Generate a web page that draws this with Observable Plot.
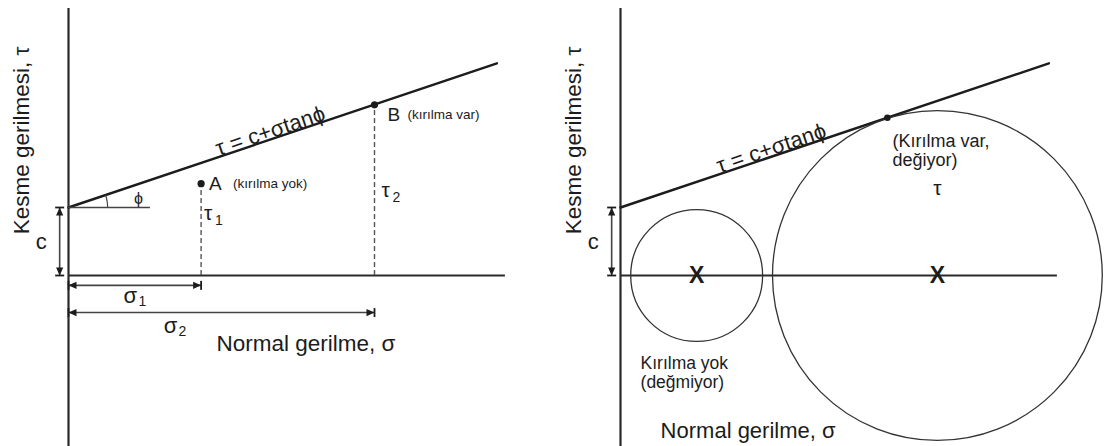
<!DOCTYPE html>
<html>
<head>
<meta charset="utf-8">
<script src="https://cdn.jsdelivr.net/npm/d3@7"></script>
<script src="https://cdn.jsdelivr.net/npm/@observablehq/plot@0.6"></script>
<style>
  body { margin: 0; background: #fff; }
  #figure { display: flex; width: 1105px; height: 446px; overflow: hidden; }
  #figure svg { display: block; font-family: "Liberation Sans", Arial, sans-serif; }
</style>
</head>
<body>
<div id="figure"></div>
<script>
// Mohr–Coulomb failure envelope τ = c + σ·tanϕ (stress units, σ and τ on equal scales)
const envelopeSigma = [0, 12.6];
const envelopeTau = [2, 6.24];
const cohesion = 2;

// Left panel: two stress states
const stateNames = ["A", "B"];
const stateNotes = ["(kırılma yok)", "(kırılma var)"];
const stateSigma = [3.9, 9.0];
const stateTau = [2.7, 5.02];

// Right panel: Mohr circles (centre on the σ axis, radius)
const circleCenter = [2.24, 9.32];
const circleRadius = [1.94, 4.85];
const contactSigma = [7.85];
const contactTau = [4.64];

// Axis extents
const sigmaAxisEnd = 12.85;
const tauAxisTop = 7.85;
const tauAxisBottom = -5.2;

// Shared scale set-up: 34 px per stress unit on both axes
const xDomain = [0, 14.235];
const yDomain = [-5.029, 8.088];

const ink = "#1c1c1c";
const grey = "#444";

const envelope = envelopeSigma.map((s, i) => ({sigma: s, tau: envelopeTau[i]}));
const slope = (envelopeTau[1] - envelopeTau[0]) / (envelopeSigma[1] - envelopeSigma[0]);
const phi = Math.atan(slope);
const onEnvelope = s => envelopeTau[0] + (s - envelopeSigma[0]) * slope;

const states = stateNames.map((n, i) => ({name: n, note: stateNotes[i], sigma: stateSigma[i], tau: stateTau[i]}));
const circles = circleCenter.map((c, i) => ({center: c, radius: circleRadius[i]}));
const contact = contactSigma.map((s, i) => ({sigma: s, tau: contactTau[i]}));

// Filled arrow head with its tip at the origin, pointing up (rotated per end)
const headSymbol = {draw(ctx) { ctx.moveTo(0, 0); ctx.lineTo(-3.6, 8); ctx.lineTo(3.6, 8); ctx.closePath(); }};
// Short end bar of a dimension line
const barSymbol = {draw(ctx) { ctx.moveTo(0, -4.5); ctx.lineTo(0, 4.5); }};

function label(x, y, s, o = {}) {
  return Plot.text([{x, y, s}], {x: "x", y: "y", text: "s", fill: ink, fontSize: 17, ...o});
}

// Dimension line between two points with arrow heads and end bars
function dimension(x1, y1, x2, y2) {
  const horizontal = y1 === y2;
  const ends = horizontal
    ? [{x: x1, y: y1, rot: -90}, {x: x2, y: y2, rot: 90}]
    : [{x: x1, y: y1, rot: 180}, {x: x2, y: y2, rot: 0}];
  return [
    Plot.link([{x1, y1, x2, y2}], {x1: "x1", y1: "y1", x2: "x2", y2: "y2", stroke: grey, strokeWidth: 1.6}),
    Plot.dot(ends, {x: "x", y: "y", symbol: headSymbol, rotate: "rot", fill: ink, stroke: "none"}),
    Plot.dot(ends, {x: "x", y: "y", symbol: barSymbol, rotate: horizontal ? 0 : 90, fill: "none", stroke: ink, strokeWidth: 1.8})
  ];
}

function frame(eqSigma) {
  return [
    Plot.ruleX([0], {y1: tauAxisBottom, y2: tauAxisTop, stroke: "#2a2a2a", strokeWidth: 2.2}),
    Plot.ruleY([0], {x1: 0, x2: sigmaAxisEnd, stroke: "#2a2a2a", strokeWidth: 2.2}),
    Plot.line(envelope, {x: "sigma", y: "tau", stroke: ink, strokeWidth: 2.4}),
    label(eqSigma, onEnvelope(eqSigma), "τ = c+σtanϕ",
      {rotate: -phi * 180 / Math.PI, lineAnchor: "bottom", dy: -1, fontSize: 22}),
    ...dimension(-0.26, 0, -0.26, cohesion),
    label(-0.8, cohesion / 2, "c", {fontSize: 22}),
    label(-1.36, 3.97, "Kesme gerilmesi, τ", {rotate: -90, fontSize: 22.5})
  ];
}

function panel(marks) {
  return Plot.plot({
    width: 552,
    height: 446,
    marginLeft: 68,
    marginRight: 0,
    marginTop: 0,
    marginBottom: 0,
    style: {background: "#fff", overflow: "visible"},
    x: {domain: xDomain, axis: null},
    y: {domain: yDomain, axis: null},
    r: {type: "linear", domain: [0, 1], range: [0, 34]},
    marks
  });
}

// ϕ angle marker: arc around the envelope's intercept
const arcR = 1.15;
const arc = d3.range(0, 1.0001, 0.1).map(t => ({
  sigma: arcR * Math.cos(t * phi),
  tau: cohesion + arcR * Math.sin(t * phi)
}));

const left = panel([
  ...frame(6.0),
  Plot.ruleY([cohesion], {x1: 0, x2: 2.41, stroke: grey, strokeWidth: 1.3}),
  Plot.line(arc, {x: "sigma", y: "tau", stroke: grey, strokeWidth: 1.2}),
  label(2.06, 2.26, "ϕ", {fontSize: 16}),
  Plot.ruleX(states, {x: "sigma", y1: 0, y2: "tau", stroke: "#555", strokeWidth: 1.4, strokeDasharray: "5,3"}),
  Plot.dot(states, {x: "sigma", y: "tau", r: 3.6, fill: ink, stroke: "none"}),
  label(stateSigma[0], stateTau[0], stateNames[0], {dx: 8, textAnchor: "start", fontSize: 19}),
  label(stateSigma[0], stateTau[0], stateNotes[0], {dx: 32, textAnchor: "start", fontSize: 13.5}),
  label(stateSigma[1], stateTau[1], stateNames[1], {dx: 13, dy: 10, textAnchor: "start", fontSize: 19}),
  label(stateSigma[1], stateTau[1], stateNotes[1], {dx: 33, dy: 10, textAnchor: "start", fontSize: 13.5}),
  label(stateSigma[0], 1.82, "τ", {dx: 3, textAnchor: "start", fontSize: 21}),
  label(stateSigma[0], 1.82, "1", {dx: 14, dy: 7, textAnchor: "start", fontSize: 14}),
  label(stateSigma[1], 2.5, "τ", {dx: 7, textAnchor: "start", fontSize: 21}),
  label(stateSigma[1], 2.5, "2", {dx: 18, dy: 7, textAnchor: "start", fontSize: 14}),
  ...dimension(0, -0.29, stateSigma[0], -0.29),
  ...dimension(0, -1.09, stateSigma[1], -1.09),
  label(1.82, -0.59, "σ", {fontSize: 22}),
  label(1.82, -0.59, "1", {dx: 8, dy: 6, textAnchor: "start", fontSize: 14}),
  label(3.0, -1.47, "σ", {fontSize: 22}),
  label(3.0, -1.47, "2", {dx: 8, dy: 6, textAnchor: "start", fontSize: 14}),
  label(4.35, -2.0, "Normal gerilme, σ", {textAnchor: "start", fontSize: 22.5})
]);

const right = panel([
  ...frame(4.5),
  Plot.dot(circles, {x: "center", y: () => 0, r: "radius", fill: "none", stroke: "#333", strokeWidth: 1.3}),
  Plot.text(circles, {x: "center", y: () => 0, text: () => "X", fill: ink, fontWeight: "bold", fontSize: 23, lineAnchor: "middle"}),
  Plot.dot(contact, {x: "sigma", y: "tau", r: 3.3, fill: ink, stroke: "none"}),
  label(8.0, 3.94, "(Kırılma var,", {textAnchor: "start", fontSize: 18}),
  label(8.0, 3.38, "değiyor)", {textAnchor: "start", fontSize: 18}),
  label(circleCenter[1], 2.56, "τ", {fontSize: 21}),
  label(0.59, -2.59, "Kırılma yok", {textAnchor: "start", fontSize: 17.5}),
  label(0.59, -3.15, "(değmiyor)", {textAnchor: "start", fontSize: 17.5}),
  label(1.18, -4.56, "Normal gerilme, σ", {textAnchor: "start", fontSize: 22})
]);

const fig = document.getElementById("figure");
fig.append(left, right);
</script>
</body>
</html>
